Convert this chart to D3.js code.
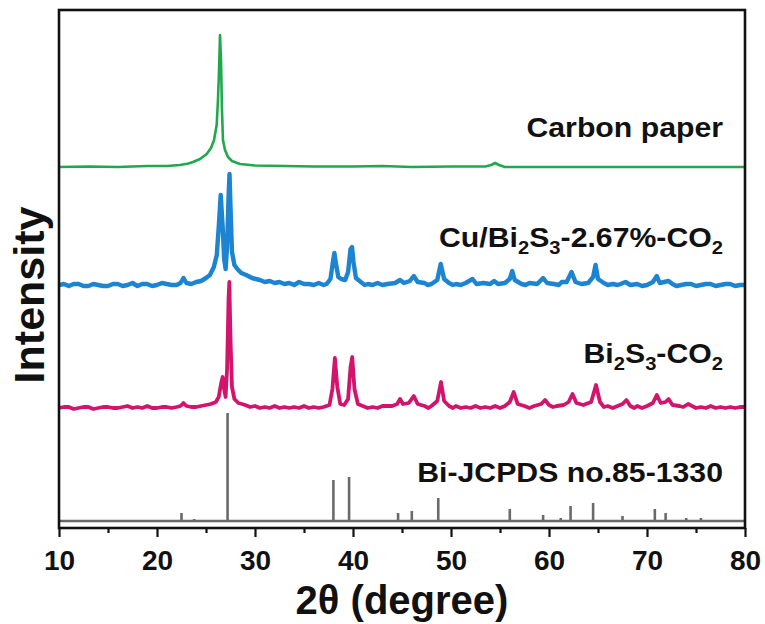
<!DOCTYPE html>
<html><head><meta charset="utf-8">
<script src="https://cdn.jsdelivr.net/npm/d3@7"></script>
<style>
body{margin:0;background:#fff}
svg{display:block}
text{font-family:Arial,"Liberation Sans",sans-serif;font-weight:bold;fill:#111}
</style>
</head><body>
<svg id="chart" width="765" height="624"></svg>
<script>
// ---------- data ----------
const xMajorTicks = [10, 20, 30, 40, 50, 60, 70, 80];
const xMinorTicks = [15, 25, 35, 45, 55, 65, 75];
const xLabel = "2θ (degree)";
const yLabel = "Intensity";

// vertical offsets (a.u.) of each stacked pattern
const carbonOffset = 361;
const cuOffset = 241;
const bisOffset = 119;
const refOffset = 7;

// Carbon paper [2θ, intensity]
const carbonPaper = [
  [10,0],[13,0.5],[16,0],[19,1],[21,1],[22.35,2],[23.2,3.5],[23.67,5],[24.39,8],[25.07,13],[25.51,19],
  [25.82,27],[26.09,42],[26.22,67],[26.33,97],[26.43,132],[26.53,107],[26.63,57],[26.73,27],
  [26.94,17],[27.24,10],[27.65,6],[28.47,3],[30,1.5],[33,1],[36,0.5],[40,0.5],[43,1],[46,0],
  [50,0.5],[53.5,0.5],[54.1,2],[54.5,4],[54.9,2],[55.5,0],[60,0],[65,0],[70,0],[75,0],[80,0]
];

// Cu/Bi2S3-2.67%-CO2 [2θ, intensity]
const cuBi2S3 = [
  [10,2],[10.5,3],[11,1],[11.5,3],[12,3],[12.5,1],[13,1],[13.5,3],[14,2],[14.5,1],[15,1],[15.5,3],
  [16,3],[16.5,1],[17,2],[17.5,4],[18,1],[18.5,3],[19,3],[19.5,1],[20,2],[20.5,4],[21,3],[21.5,2],[22,2],
  [22.4,4],[22.7,9],[23.0,4],[23.5,3],[24,5],[24.5,6],[25,9],[25.4,12],[25.8,20],[26.1,32],
  [26.3,60],[26.5,92],[26.7,60],[26.85,28],[27.0,18],[27.15,40],[27.3,90],[27.4,113],[27.5,80],
  [27.65,35],[27.9,22],[28.2,18],[28.6,14],[29.1,12],[29.7,9],[30.1,8],[30.5,7],[31,5],[31.5,6],[32,4],[32.5,5],
  [33,3],[33.5,4],[34,2],[34.5,5],[35,3],[35.5,3],[36,2],[36.5,4],[37,2],[37.3,3],[37.7,8],[37.95,25],[38.1,34],[38.25,24],
  [38.5,10],[38.8,8],[39.2,7],[39.5,15],[39.75,38],[39.9,40],[40.05,25],[40.3,9],[40.8,5],
  [41.2,2],[41.5,3],[42,2],[42.5,4],[43,2],[43.5,3],[44.3,4],[44.8,7],[45.2,4],[45.8,6],[46.2,11],[46.6,5],[47.3,4],
  [47.6,2],[48.0,3],[48.6,7],[48.95,23],[49.3,8],[49.8,4],[50.2,2],[50.5,3],[51,2],[51.5,4],[52.2,8],[52.6,3],[53.3,4],
  [54.0,3],[54.4,6],[54.8,3],[55.5,4],[56.0,8],[56.25,16],[56.5,7],[57.2,3],[57.6,2],[58.0,4],[58.8,3],
  [59.4,9],[59.8,4],[60.5,3],[61,2],[61.3,5],[61.8,5],[62.3,15],[62.7,5],[63.3,3],[64.0,4],[64.5,10],
  [64.75,22],[65.0,8],[65.6,4],[66,2],[66.5,3],[67,2],[67.3,3],[67.8,5],[68.3,2],[69.0,3],[69.5,1],[70.0,2],[70.6,5],
  [71.0,11],[71.3,4],[72.2,6],[72.6,3],[73,1],[73.5,2],[74,3],[74.5,3],[75,1],[75.5,2],[76,3],[76.5,3],[77,1],[77.5,2],[78,3],[78.5,3],
  [79,1],[79.5,2],[80,2]
];

// Bi2S3-CO2 [2θ, intensity]
const bi2S3 = [
  [10,1],[10.5,2],[11,2],[11.5,0],[12,1],[12.5,2],[13,2],[13.5,0],[14,1],[14.5,2],[15,2],[15.5,1],
  [16,1],[16.5,2],[17,3],[17.5,1],[18,2],[18.5,1],[19,3],[19.5,1],[20,1],[20.5,2],[21,2],[21.5,1],[22,2],
  [22.4,3],[22.7,6],[23.0,3],[23.5,2],[24,2],[24.5,3],[25,4],[25.5,5],[26,7],[26.3,12],
  [26.55,26],[26.7,32],[26.85,20],[27.0,12],[27.15,40],[27.3,110],[27.38,127],[27.5,70],
  [27.65,22],[27.9,10],[28.3,6],[29,4],[29.5,2],[30,3],[30.5,1],[31,2],[31.5,1],[32,3],[32.5,1],[33,2],[33.5,1],[34,2],
  [34.5,1],[35,3],[35.5,1],[36,2],[36.5,1],[37,2],
  [37.6,4],[37.9,20],[38.15,51],[38.4,22],[38.7,5],[39.1,4],[39.5,10],[39.75,42],[39.92,52],
  [40.15,20],[40.5,5],[41,3],[41.5,1],[42,2],[42.5,1],[43,3],[44,3],[44.5,5],[44.8,10],[45.1,5],[45.7,6],
  [46.2,13],[46.6,5],[47.3,3],[47.7,1],[48,3],[48.6,8],[48.98,27],[49.3,8],[49.8,3],[50.2,1],[50.5,3],[51,1],[51.5,2],
  [52,1],[52.5,3],[53,1],[53.5,2],[54,1],[54.5,3],[55,1],[55.5,3],[56.0,7],[56.4,17],[56.8,5],[57.5,3],[58,1],[58.5,3],[59.2,5],
  [59.6,9],[60,4],[60.4,2],[60.8,3],[61.5,4],[62.0,7],[62.4,15],[62.8,6],[63.5,4],[64.3,7],[64.8,24],
  [65.2,7],[65.6,2],[66,3],[66.5,1],[67,3],[67.5,5],[67.9,9],[68.3,3],[68.7,1],[69,3],[69.5,1],[70,3],[70.6,6],[71.0,14],[71.4,6],
  [71.9,7],[72.2,10],[72.6,4],[73.3,3],[73.7,2],[74.2,5],[74.6,3],[75,1],[75.5,2],[76,1],[76.5,3],[77,1],[77.5,2],[78,1],[78.5,2],
  [79,1],[79.5,2],[80,2]
];

// Bi JCPDS no.85-1330 reference lines [2θ, intensity]
const refAngles  = [22.5, 23.8, 27.2, 38.0, 39.6, 44.6, 46.0, 48.7, 56.0, 59.4, 61.2, 62.2, 64.5, 67.5, 70.8, 71.9, 74.0, 75.5];
const refHeights = [8,    2,    108,  41,   44,   8,    10,   23,   12,   6,    3,    15,   18,   5,    12,   8,    3,    3];

const seriesColors = ["#22a84c", "#1d84d2", "#d3146c", "#6a6a6a"];

// ---------- chart ----------
const svg = d3.select("#chart");
const x = d3.scaleLinear().domain([10, 80]).range([59, 745]);
const y = d3.scaleLinear().domain([0, 518]).range([528, 10]);

svg.append("defs").append("clipPath").attr("id", "clip")
  .append("rect").attr("x", 59).attr("y", 10).attr("width", 686).attr("height", 518);

const plot = svg.append("g").attr("clip-path", "url(#clip)");

const lineFor = off => d3.line().x(d => x(d[0])).y(d => y(d[1] + off));

// reference sticks
plot.append("line")
  .attr("x1", x(10)).attr("x2", x(80))
  .attr("y1", y(refOffset)).attr("y2", y(refOffset))
  .attr("stroke", seriesColors[3]).attr("stroke-width", 2.6);
plot.selectAll("line.stick").data(refAngles.map((a, i) => [a, refHeights[i]]))
  .join("line").attr("class", "stick")
  .attr("x1", d => x(d[0])).attr("x2", d => x(d[0]))
  .attr("y1", y(refOffset)).attr("y2", d => y(refOffset + d[1]))
  .attr("stroke", seriesColors[3]).attr("stroke-width", 2.6);

plot.append("path").datum(bi2S3).attr("d", lineFor(bisOffset))
  .attr("fill", "none").attr("stroke", seriesColors[2]).attr("stroke-width", 3.8).attr("stroke-linejoin", "round");
plot.append("path").datum(cuBi2S3).attr("d", lineFor(cuOffset))
  .attr("fill", "none").attr("stroke", seriesColors[1]).attr("stroke-width", 4.4).attr("stroke-linejoin", "round");
plot.append("path").datum(carbonPaper).attr("d", lineFor(carbonOffset))
  .attr("fill", "none").attr("stroke", seriesColors[0]).attr("stroke-width", 2.6).attr("stroke-linejoin", "round");

// axes
const xAxis = svg.append("g").attr("transform", "translate(0,528)")
  .call(d3.axisBottom(x).tickValues(xMajorTicks).tickSize(9).tickPadding(13).tickFormat(d3.format("d")));
xAxis.select(".domain").remove();
xAxis.selectAll("line").attr("stroke", "#111").attr("stroke-width", 2.2);
xAxis.selectAll("text").attr("font-size", 28).style("font-family", "Arial, 'Liberation Sans', sans-serif").attr("fill", "#111");

const xMinor = svg.append("g").attr("transform", "translate(0,528)")
  .call(d3.axisBottom(x).tickValues(xMinorTicks).tickSize(5).tickFormat(""));
xMinor.select(".domain").remove();
xMinor.selectAll("line").attr("stroke", "#111").attr("stroke-width", 2.2);

// frame
svg.append("rect").attr("x", 59).attr("y", 10).attr("width", 686).attr("height", 518)
  .attr("fill", "none").attr("stroke", "#111").attr("stroke-width", 2.6);

// axis titles
svg.append("text").attr("x", 402).attr("y", 614).attr("text-anchor", "middle")
  .attr("font-size", 40).text(xLabel);
svg.append("text").attr("transform", "translate(44,295) rotate(-90)").attr("text-anchor", "middle")
  .attr("font-size", 43).text(yLabel);

// series labels (with subscripts)
function label(parts, yPos) {
  const t = svg.append("text").attr("text-anchor", "end").attr("font-size", 27)
    .attr("transform", `translate(723,${yPos}) scale(1.12,1)`);
  let lowered = false;
  parts.forEach(p => {
    const ts = t.append("tspan").text(p.t);
    if (p.sub) {
      ts.attr("font-size", 18);
      if (!lowered) { ts.attr("dy", 7); lowered = true; }
    } else if (lowered) {
      ts.attr("dy", -7); lowered = false;
    }
  });
}
label([{t: "Carbon paper"}], 137);
label([{t: "Cu/Bi"}, {t: "2", sub: true}, {t: "S"}, {t: "3", sub: true}, {t: "-2.67%-CO"}, {t: "2", sub: true}], 247);
label([{t: "Bi"}, {t: "2", sub: true}, {t: "S"}, {t: "3", sub: true}, {t: "-CO"}, {t: "2", sub: true}], 363);
label([{t: "Bi-JCPDS no.85-1330"}], 482);
</script>
</body></html>
